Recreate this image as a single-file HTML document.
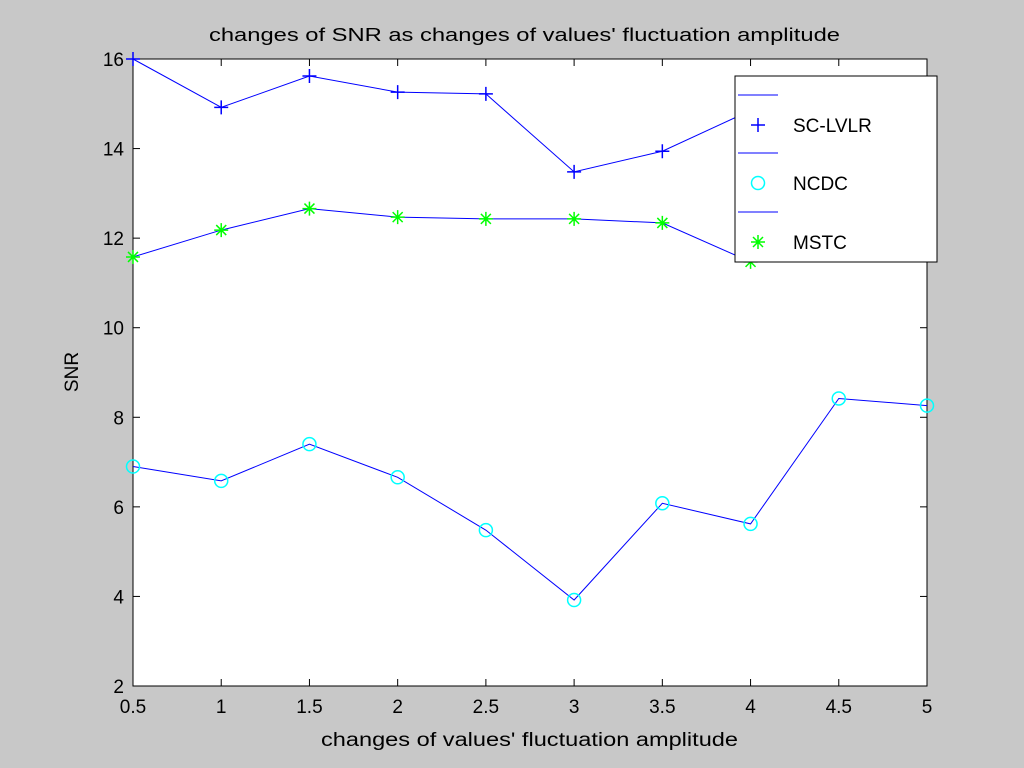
<!DOCTYPE html>
<html><head><meta charset="utf-8"><style>
body{margin:0;width:1024px;height:768px;background:#c8c8c8;overflow:hidden}
svg{display:block;font-family:"Liberation Sans",sans-serif}
</style></head><body>
<svg id="chart" width="1024" height="768">
<rect x="0" y="0" width="1024" height="768" fill="#c8c8c8"/>
<rect x="133" y="59" width="794" height="627" fill="#fff" stroke="#000" stroke-width="1"/>
<text x="209" y="41" font-size="18" textLength="631" lengthAdjust="spacingAndGlyphs">changes of SNR as changes of values' fluctuation amplitude</text>
<text x="321" y="746" font-size="19" textLength="417" lengthAdjust="spacingAndGlyphs">changes of values' fluctuation amplitude</text>
<text x="78" y="372" font-size="19" text-anchor="middle" transform="rotate(-90 78 372)">SNR</text>
<g id="axes"></g><g id="series"></g><g id="legend"></g>
</svg>
<script>
const xCats=[0.5,1,1.5,2,2.5,3,3.5,4,4.5,5];
const yTicks=[2,4,6,8,10,12,14,16];
const scl=[16.0,14.92,15.62,15.26,15.22,13.48,13.94,14.85,15.0,15.12];
const ncdc=[6.9,6.58,7.4,6.66,5.48,3.92,6.08,5.62,8.42,8.26];
const mstc=[11.58,12.18,12.66,12.47,12.43,12.43,12.34,11.47,11.72,11.7];
const X=v=>133+(v-0.5)/4.5*794;
const Y=v=>686-(v-2)/14*627;
const NS="http://www.w3.org/2000/svg";
function mk(t,a,p){const e=document.createElementNS(NS,t);for(const k in a)e.setAttribute(k,a[k]);p.appendChild(e);return e;}
const ax=document.getElementById('axes');
xCats.forEach(v=>{
 const l=mk('line',{x1:X(v),x2:X(v),y1:686,y2:679,stroke:'#000'},ax);
 
 
 const l2=mk('line',{x1:X(v),x2:X(v),y1:59,y2:66,stroke:'#000'},ax);
 
 
 const t=mk('text',{x:X(v),y:713,'font-size':19,'text-anchor':'middle'},ax);t.textContent=v;
 
 
});
yTicks.forEach(v=>{
 const l=mk('line',{x1:133,x2:140,y1:Y(v),y2:Y(v),stroke:'#000'},ax);
 
 
 const l2=mk('line',{x1:920,x2:927,y1:Y(v),y2:Y(v),stroke:'#000'},ax);
 
 
 const t=mk('text',{x:124,y:Y(v)+7,'font-size':19,'text-anchor':'end'},ax);t.textContent=v;
 
 
});
function marker(type,x,y,p){
 const g=mk('g',{},p);
 if(type==='plus'){mk('path',{d:`M${x-7} ${y}H${x+7}M${x} ${y-7}V${y+7}`,stroke:'#0000ff','stroke-width':1.5},g);}
 else if(type==='circle'){mk('circle',{cx:x,cy:y,r:6.5,fill:'none',stroke:'#00ffff','stroke-width':1.5},g);}
 else{mk('path',{d:`M${x-7} ${y}H${x+7}M${x} ${y-7}V${y+7}M${x-5} ${y-5}L${x+5} ${y+5}M${x-5} ${y+5}L${x+5} ${y-5}`,stroke:'#00ff00','stroke-width':1.5},g);}
 return g;
}
const sg=document.getElementById('series');
[[scl,'plus','sc-lvlr'],[ncdc,'circle','ncdc'],[mstc,'star','mstc']].forEach(([d,m,n])=>{
 const pl=mk('polyline',{points:d.map((v,i)=>X(xCats[i])+','+Y(v)).join(' '),fill:'none',stroke:'#0000ff','stroke-width':1},sg);
 
 
 d.forEach((v,i)=>{const g=marker(m,X(xCats[i]),Y(v),sg);
  
  });
});
const lg=document.getElementById('legend');
const box=mk('rect',{x:735,y:76,width:202,height:186,fill:'#fff',stroke:'#000'},lg);


[['SC-LVLR','plus',95],['NCDC','circle',153],['MSTC','star',212]].forEach(([t,m,y])=>{
 const l=mk('line',{x1:738,x2:778,y1:y,y2:y,stroke:'#0000ff'},lg);
 
 
 const g=marker(m,758,y+30,lg);
 
 
 const tx=mk('text',{x:793,y:y+37,'font-size':19},lg);tx.textContent=t;
 
 
});
</script>
</body></html>
